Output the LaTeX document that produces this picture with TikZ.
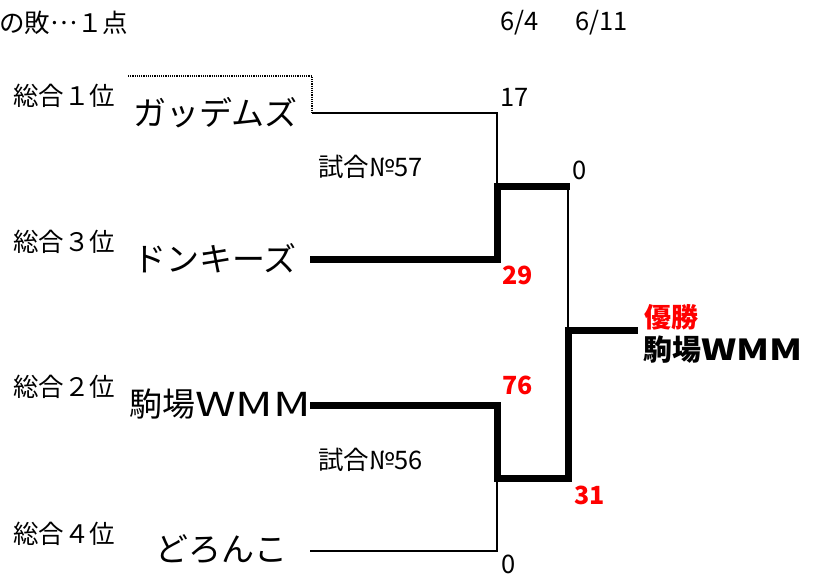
\documentclass[tikz,border=0pt]{standalone}
\usepackage{fontspec}
\usepackage{graphicx}
\setmainfont{Noto Sans CJK JP}
\newcommand{\widewmm}[1][1.4]{\scalebox{#1}[1]{WMM}}
\begin{document}
\begin{tikzpicture}[x=1pt,y=-1pt,
	txt/.style={inner sep=0pt,anchor=west,font=\fontsize{25.5}{25.5}\selectfont},
	team/.style={inner sep=0pt,anchor=west,font=\fontsize{33}{33}\selectfont},
	win/.style={txt,text=red,font=\fontsize{25}{25}\selectfont\bfseries},
	lost/.style={line width=2.5pt},
	won/.style={line width=7pt,line join=miter}]
	\useasboundingbox (0,0) rectangle (814,575);
	\node [txt] (note) at (-1,23) {の敗\raisebox{.33em}{…}１点};
	\node [txt] (day1) at (500,23) {6/4};
	\node [txt] (day2) at (575,23) {6/11};
	\node [txt] (rank1) at (13,96) {総合１位};
	\node [txt] (rank3) at (13,242) {総合３位};
	\node [txt] (rank2) at (13,387) {総合２位};
	\node [txt] (rank4) at (13,534) {総合４位};
	\node [team] (team1) at (133,113) {ガッデムズ};
	\node [team] (team3) at (133,258) {ドンキーズ};
	\node [team] (team2) at (129,404) {駒場\widewmm};
	\node [team] (team4) at (155,549) {どろんこ};
	\node [txt] (game57) at (318,167) {試合№57};
	\node [txt] (game56) at (318,460) {試合№56};
	\node [txt] (sc1) at (500,97) {17};
	\node [win] (sc3) at (502,275) {29};
	\node [win] (sc2) at (502,385) {76};
	\node [txt] (sc4) at (501,564) {0};
	\node [txt] (fin1) at (572,170) {0};
	\node [win] (fin2) at (574,495) {31};
	\node [win,font=\fontsize{27}{27}\selectfont\bfseries] (champ) at (644,317) {優勝};
	\node [inner sep=0pt,anchor=west,font=\fontsize{29}{29}\selectfont\bfseries] (champteam) at (643,350) {駒場\widewmm[1.3]};
	\coordinate (dot) at (128,76);
	\coordinate (a1) at (312,113);
	\coordinate (a3) at (310,259);
	\coordinate (a2) at (310,405);
	\coordinate (a4) at (310,551);
	\coordinate (j57) at (497,186);
	\coordinate (j56) at (497,478);
	\coordinate (up) at (568,186);
	\coordinate (jf) at (568,330);
	\coordinate (top) at (638,330);
	\draw [densely dotted,line width=1.2pt] (dot) -| (a1);
	\draw [lost] (a1) -| (j57);
	\draw [lost] (up) -- (jf);
	\draw [lost] (a4) -| (j56);
	\draw [won] (a3) -| (j57) -- ([xshift=2pt]up);
	\draw [won] (a2) -| (j56) -| (jf) -- (top);
\end{tikzpicture}
\end{document}
